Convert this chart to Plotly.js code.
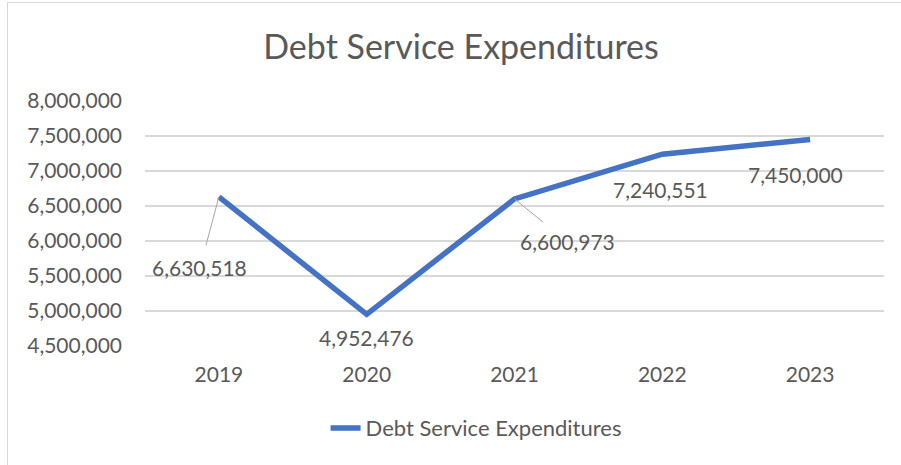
<!DOCTYPE html>
<html>
<head>
<meta charset="utf-8">
<script src="https://cdn.plot.ly/plotly-3.0.1.min.js"></script>
<style>
  html, body { margin: 0; padding: 0; background: #ffffff; }
  #wrap { position: relative; width: 901px; height: 465px; }
  #chart { width: 901px; height: 465px; }
  #frame { position: absolute; left: 7px; top: 2px; width: 894px; height: 463px;
           border-left: 1px solid #d9d9d9; border-top: 1px solid #d9d9d9; pointer-events: none; }
</style>
</head>
<body>
<div id="wrap">
  <div id="chart"></div>
  <div id="frame"></div>
</div>
<script>
// ---- data ----
const years = ["2019", "2020", "2021", "2022", "2023"];
const expenditures = [6630518, 4952476, 6600973, 7240551, 7450000];
const seriesName = "Debt Service Expenditures";
const yTickValues = [4500000, 5000000, 5500000, 6000000, 6500000, 7000000, 7500000, 8000000];

// ---- label placement (pixel offsets, styling only) ----
const labelStyle = [
  { leader: true,  ax: -19, ay: 71 },
  { leader: false, dx: 0,   dy: -23 },
  { leader: true,  ax: 53,  ay: 43 },
  { leader: false, dx: -2,  dy: -35 },
  { leader: false, dx: -15, dy: -35 }
];

const fontFam = "Lato, 'Open Sans', sans-serif";
const textColor = "#595959";
const fmt = v => v.toLocaleString("en-US");

const annotations = years.map((yr, i) => {
  const s = labelStyle[i];
  const base = {
    x: i, y: expenditures[i], xref: "x", yref: "y",
    text: fmt(expenditures[i]),
    font: { family: fontFam, size: 21, color: textColor }
  };
  if (s.leader) {
    return Object.assign(base, {
      showarrow: true, arrowhead: 0, arrowwidth: 1, arrowcolor: "#a6a6a6",
      startstandoff: 9,
      ax: s.ax, ay: s.ay, axref: "pixel", ayref: "pixel"
    });
  }
  return Object.assign(base, { showarrow: false, xshift: s.dx, yshift: s.dy });
});

const trace = {
  type: "scatter",
  mode: "lines",
  x: years,
  y: expenditures,
  name: seriesName,
  line: { color: "#4472C4", width: 5.5 },
  hoverinfo: "skip"
};

const layout = {
  width: 901,
  height: 465,
  margin: { l: 145, r: 17, t: 101, b: 119 },
  paper_bgcolor: "#ffffff",
  plot_bgcolor: "#ffffff",
  font: { family: fontFam, color: textColor, size: 21 },
  title: {
    text: "Debt Service Expenditures",
    font: { family: fontFam, size: 34, color: textColor },
    x: 461 / 901, xanchor: "center", xref: "container",
    y: 1 - 47 / 465, yanchor: "middle", yref: "container"
  },
  xaxis: {
    type: "category",
    range: [-0.5, 4.5],
    showgrid: false,
    zeroline: false,
    showline: false,
    ticks: "",
    ticklabelstandoff: 14,
    tickfont: { family: fontFam, size: 21, color: textColor }
  },
  yaxis: {
    range: [4500000, 8000000],
    tickvals: yTickValues,
    ticktext: yTickValues.map(fmt),
    showgrid: true,
    gridcolor: "#d9d9d9",
    gridwidth: 1.4,
    zeroline: false,
    showline: false,
    ticks: "",
    ticklabelstandoff: 22,
    tickfont: { family: fontFam, size: 21, color: textColor }
  },
  showlegend: true,
  legend: {
    orientation: "h",
    x: 0.448, xanchor: "center",
    y: -0.335, yanchor: "middle",
    font: { family: fontFam, size: 22, color: textColor }
  },
  annotations: annotations
};

Plotly.newPlot("chart", [trace], layout, { displayModeBar: false, staticPlot: true });
</script>
</body>
</html>
